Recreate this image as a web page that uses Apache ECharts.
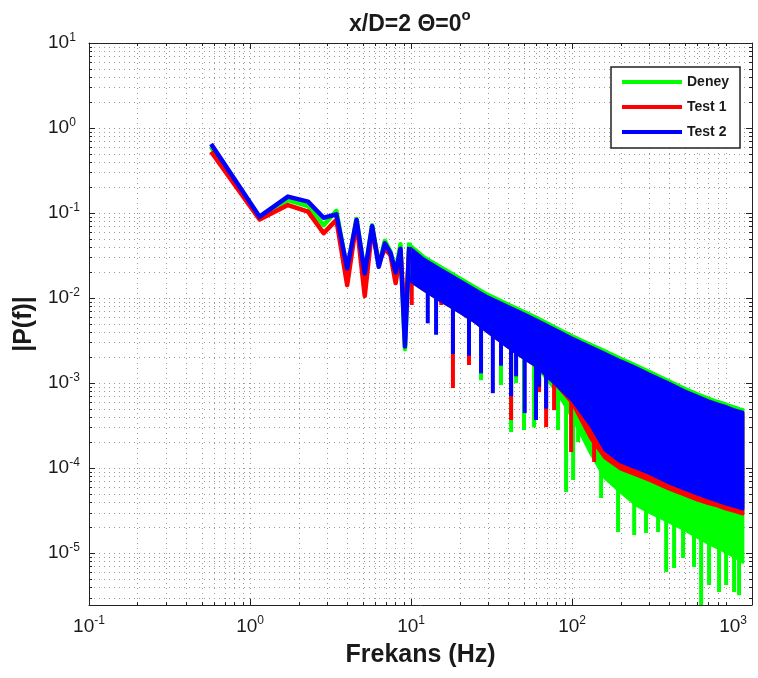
<!DOCTYPE html>
<html><head><meta charset="utf-8">
<script src="https://cdn.jsdelivr.net/npm/echarts@6/dist/echarts.min.js"></script>
<style>html,body{margin:0;padding:0;background:#fff}#c{width:758px;height:678px}</style>
</head><body><div id="c"></div>
<script>
// ---------- axis ranges / tick labels ----------
const X_MIN = 0.1, X_MAX = 1310;
const Y_MIN = 2.45e-6, Y_MAX = 10;
const xTickExps = [-1, 0, 1, 2, 3];
const yTickExps = [1, 0, -1, -2, -3, -4, -5];
const decadeMults = [1, 2, 3, 4, 5, 6, 7, 8, 9];

// ---------- low-frequency resolved bins (Hz) ----------
const lineF = [0.573, 1.146, 1.719, 2.292, 2.865, 3.438, 4.011, 4.584, 5.157, 5.73, 6.303, 6.876, 7.449, 8.022, 8.595, 9.168, 9.741];
const deneyLine = [0.60, 0.088, 0.142, 0.121, 0.072, 0.106, 0.021, 0.085, 0.019, 0.072, 0.024, 0.047, 0.035, 0.020, 0.043, 0.0025, 0.045];
const test1Line = [0.527, 0.084, 0.124, 0.104, 0.058, 0.083, 0.0142, 0.079, 0.0106, 0.066, 0.0256, 0.038, 0.032, 0.015, 0.036, 0.0045, 0.038];
const test2Line = [0.648, 0.0905, 0.156, 0.136, 0.088, 0.0965, 0.0223, 0.083, 0.0195, 0.070, 0.0233, 0.044, 0.034, 0.020, 0.038, 0.0027, 0.040];

// ---------- dense band region: envelopes ----------
const bandF = [9.7, 12, 15, 20, 25, 30, 40, 50, 60, 80, 100, 130, 160, 200, 250, 300, 400, 500, 600, 700, 800, 900, 1000, 1100, 1150];
const deneyUpper = [0.0432, 0.0308, 0.024, 0.0174, 0.0136, 0.0111, 0.00857, 0.00703, 0.00597, 0.0045, 0.00362, 0.00288, 0.0024, 0.00197, 0.00163, 0.00138, 0.00107, 0.00087, 0.00075, 0.00067, 0.00061, 0.00057, 0.00053, 0.0005, 0.00049];
const deneyLower = [0.0163, 0.0124, 0.00947, 0.00684, 0.00522, 0.00398, 0.00265, 0.00197, 0.00158, 0.0008, 0.0004, 0.00015, 0.0000763, 0.0000522, 0.0000367, 0.0000303, 0.0000232, 0.0000187, 0.0000154, 0.0000131, 0.0000115, 0.0000103, 0.0000092, 0.0000083, 0.0000078];
const test1Upper = [0.039, 0.0277, 0.0216, 0.0157, 0.0122, 0.010, 0.0077, 0.0063, 0.0054, 0.0041, 0.00326, 0.0026, 0.00216, 0.00177, 0.00147, 0.00124, 0.00096, 0.00078, 0.00068, 0.0006, 0.00055, 0.00051, 0.00048, 0.00045, 0.00044];
const test1Lower = [0.0163, 0.0124, 0.00947, 0.00684, 0.00522, 0.00398, 0.00265, 0.00197, 0.00158, 0.000947, 0.00058, 0.000225, 0.000131, 0.0000973, 0.0000828, 0.0000723, 0.0000566, 0.0000481, 0.000042, 0.0000382, 0.0000357, 0.000033, 0.0000312, 0.0000296, 0.0000288];
const test2Upper = [0.040, 0.0287, 0.0223, 0.0162, 0.0126, 0.0103, 0.0080, 0.00654, 0.00555, 0.00419, 0.00337, 0.00268, 0.00223, 0.00183, 0.00152, 0.00128, 0.000995, 0.00081, 0.0007, 0.00062, 0.00057, 0.00053, 0.00049, 0.000465, 0.000455];
const test2Lower = [0.0163, 0.0124, 0.00947, 0.00684, 0.00522, 0.00398, 0.00265, 0.00197, 0.00158, 0.000947, 0.00063, 0.00032, 0.000163, 0.000118, 0.0001, 0.0000873, 0.0000667, 0.0000566, 0.0000494, 0.0000444, 0.000041, 0.0000377, 0.0000357, 0.0000338, 0.000033];

// ---------- deep dips below each band: [Hz, bottom value] ----------
const deneySpikes = [[27.2, 0.00108], [36.2, 0.000947], [41.8, 0.000265], [44.9, 0.001], [50.3, 0.00028], [58.1, 0.0003], [81.8, 0.00028], [91.8, 0.0000522], [101.5, 0.0000723], [109, 0.000202], [151.4, 0.0000444], [193, 0.0000177], [243, 0.0000163], [288, 0.0000172], [342, 0.0000177], [384, 0.00000597], [430, 0.00000667], [489, 0.00000873], [572, 0.00000684], [633, 0.00000245], [709, 0.00000421], [818, 0.00000348], [905, 0.00000421], [1014, 0.00000348], [1089, 0.0000032]];
const test1Spikes = [[10.1, 0.00828], [15.4, 0.00828], [18.2, 0.000873], [21.0, 0.00667], [22.9, 0.00163], [41.8, 0.000367], [62.4, 0.000783], [69, 0.000303], [77.3, 0.00048], [98.6, 0.000154], [137, 0.000118], [167, 0.000124], [210, 0.0000947]];
const test2Spikes = [[12.7, 0.00504], [14.3, 0.0037], [18.2, 0.0022], [22.9, 0.0021], [27.2, 0.0013], [32.2, 0.00076], [36.2, 0.0016], [41.8, 0.0007], [44.9, 0.0012], [50.8, 0.000443], [59.7, 0.000367], [62.4, 0.0009], [69, 0.0005]];

const seriesNames = ['Deney', 'Test 1', 'Test 2'];
const seriesColors = ['#00ff00', '#ff0000', '#0000ff'];

// ---------- helpers ----------
const FONT = '"Liberation Sans", Arial, Helvetica, sans-serif';
const TXT = '#1a1a1a';
const GRID_COLOR = '#9a9a9a';
function isMajor(v) { const l = Math.log10(v); return Math.abs(l - Math.round(l)) < 1e-6; }
function buildGridValues(lo, hi) {
  const out = [];
  for (let e = -7; e <= 2; e++) {
    decadeMults.forEach(m => { const v = m * Math.pow(10, e); if (v >= lo * 0.9999 && v <= hi * 1.0001) out.push(+v.toPrecision(6)); });
  }
  return out;
}
const xGridVals = buildGridValues(X_MIN, X_MAX);
const yGridVals = buildGridValues(Y_MIN, Y_MAX);

function interpLogLog(f, xs, ys) {
  const lf = Math.log10(f);
  for (let i = 0; i < xs.length - 1; i++) {
    if (f >= xs[i] && f <= xs[i + 1]) {
      const t = (lf - Math.log10(xs[i])) / (Math.log10(xs[i + 1]) - Math.log10(xs[i]));
      return Math.pow(10, Math.log10(ys[i]) + t * (Math.log10(ys[i + 1]) - Math.log10(ys[i])));
    }
  }
  return ys[f < xs[0] ? 0 : ys.length - 1];
}

function gridRender(axis) {
  return function (params, api) {
    const cs = params.coordSys;
    const children = [];
    if (axis === 'x') {
      const v = api.value(0);
      const p = api.coord([v, Y_MIN]);
      const x = Math.round(p[0]) + 0.5;
      const tl = isMajor(v) ? 6 : 3;
      const edge = Math.abs(p[0] - cs.x) < 1 || Math.abs(p[0] - (cs.x + cs.width)) < 1;
      if (!edge) {
        children.push({ type: 'line', shape: { x1: x, y1: cs.y, x2: x, y2: cs.y + cs.height }, style: { stroke: GRID_COLOR, lineWidth: 1, lineDash: [1, 4] } });
        children.push({ type: 'line', shape: { x1: x, y1: cs.y + cs.height, x2: x, y2: cs.y + cs.height - tl }, style: { stroke: '#222', lineWidth: 1 } });
        children.push({ type: 'line', shape: { x1: x, y1: cs.y, x2: x, y2: cs.y + tl }, style: { stroke: '#222', lineWidth: 1 } });
      }
    } else {
      const v = api.value(1);
      const p = api.coord([X_MIN, v]);
      const y = Math.round(p[1]) + 0.5;
      const tl = isMajor(v) ? 6 : 3;
      const edge = Math.abs(p[1] - cs.y) < 1 || Math.abs(p[1] - (cs.y + cs.height)) < 1;
      if (!edge) {
        children.push({ type: 'line', shape: { x1: cs.x, y1: y, x2: cs.x + cs.width, y2: y }, style: { stroke: GRID_COLOR, lineWidth: 1, lineDash: [1, 4] } });
        children.push({ type: 'line', shape: { x1: cs.x, y1: y, x2: cs.x + tl, y2: y }, style: { stroke: '#222', lineWidth: 1 } });
        children.push({ type: 'line', shape: { x1: cs.x + cs.width, y1: y, x2: cs.x + cs.width - tl, y2: y }, style: { stroke: '#222', lineWidth: 1 } });
      }
    }
    return { type: 'group', silent: true, children: children };
  };
}

function bandRender(upper, lower, spikes, color) {
  return function (params, api) {
    if (params.dataIndex !== 0) return;
    const pts = [];
    for (let i = 0; i < bandF.length; i++) pts.push(api.coord([bandF[i], upper[i]]));
    for (let i = bandF.length - 1; i >= 0; i--) pts.push(api.coord([bandF[i], lower[i]]));
    const children = [{ type: 'polygon', shape: { points: pts }, style: { fill: color, stroke: color, lineWidth: 3, lineJoin: 'round' } }];
    spikes.forEach(s => {
      const top = api.coord([s[0], interpLogLog(s[0], bandF, upper)]);
      const bot = api.coord([s[0], s[1]]);
      children.push({ type: 'line', shape: { x1: bot[0], y1: top[1], x2: bot[0], y2: bot[1] }, style: { stroke: color, lineWidth: 4 } });
    });
    return { type: 'group', silent: true, children: children };
  };
}

function supFormatter(v) {
  if (!isMajor(v)) return '';
  return '10{sup|' + Math.round(Math.log10(v)) + '}';
}

const lineSets = [deneyLine, test1Line, test2Line];
const bandSets = [[deneyUpper, deneyLower, deneySpikes], [test1Upper, test1Lower, test1Spikes], [test2Upper, test2Lower, test2Spikes]];

const series = [
  { type: 'custom', name: 'gx', silent: true, data: xGridVals.map(v => [v, Y_MIN]), renderItem: gridRender('x'), z: 1 },
  { type: 'custom', name: 'gy', silent: true, data: yGridVals.map(v => [X_MIN, v]), renderItem: gridRender('y'), z: 1 }
];
seriesNames.forEach((nm, k) => {
  series.push({
    type: 'line', name: nm, color: seriesColors[k], symbol: 'none', showSymbol: false,
    data: lineF.map((f, i) => [f, lineSets[k][i]]),
    lineStyle: { width: 4.5, color: seriesColors[k], join: 'round' }, z: 2
  });
  const b = bandSets[k];
  series.push({
    type: 'custom', name: nm + ' band', silent: true,
    data: bandF.map((f, i) => [f, b[0][i], b[1][i]]),
    encode: { x: 0, y: [1, 2] },
    renderItem: bandRender(b[0], b[1], b[2], seriesColors[k]), z: 2
  });
});

const axisLabelX = {
  formatter: supFormatter, margin: 10, fontSize: 19, lineHeight: 23, color: TXT, fontFamily: FONT,
  rich: { sup: { fontSize: 12, lineHeight: 12, verticalAlign: 'top', color: TXT, fontFamily: FONT } }
};
const axisLabelY = {
  formatter: supFormatter, margin: 41, align: 'left', fontSize: 19, lineHeight: 23, color: TXT, fontFamily: FONT,
  rich: { sup: { fontSize: 12, lineHeight: 12, verticalAlign: 'top', color: TXT, fontFamily: FONT } }
};
const frameLine = { show: true, onZero: false, lineStyle: { color: '#222', width: 1 } };

const option = {
  animation: false,
  backgroundColor: '#fff',
  textStyle: { fontFamily: FONT },
  title: {
    text: 'x/D=2 Θ=0{sup|o}', left: 344, top: 3,
    textStyle: { fontSize: 23, fontWeight: 'bold', color: TXT, fontFamily: FONT, lineHeight: 34,
      rich: { sup: { fontSize: 15, lineHeight: 15, fontWeight: 'bold', verticalAlign: 'top', color: TXT, fontFamily: FONT } } }
  },
  grid: { left: 89, right: 6, top: 43, bottom: 73, containLabel: false, outerBoundsMode: 'none' },
  legend: {
    data: seriesNames, orient: 'vertical', left: 611, top: 67,
    icon: 'rect', itemWidth: 60, itemHeight: 4, itemGap: 9,
    padding: [7, 11, 8, 11],
    textStyle: { fontSize: 14, fontWeight: 'bold', lineHeight: 16, color: TXT, fontFamily: FONT },
    borderColor: '#222', borderWidth: 1.5, backgroundColor: '#fff', z: 10,
    selectedMode: false
  },
  xAxis: [
    { type: 'log', logBase: 10, min: X_MIN, max: X_MAX, position: 'bottom',
      axisLine: frameLine, axisTick: { show: false }, splitLine: { show: false }, minorTick: { show: false },
      axisLabel: axisLabelX,
      name: 'Frekans (Hz)', nameLocation: 'middle', nameGap: 33,
      nameTextStyle: { fontSize: 25, fontWeight: 'bold', color: TXT, fontFamily: FONT } },
    { type: 'log', logBase: 10, min: X_MIN, max: X_MAX, position: 'top',
      axisLine: frameLine, axisTick: { show: false }, splitLine: { show: false }, axisLabel: { show: false } }
  ],
  yAxis: [
    { type: 'log', logBase: 10, min: Y_MIN, max: Y_MAX, position: 'left',
      axisLine: frameLine, axisTick: { show: false }, splitLine: { show: false }, minorTick: { show: false },
      axisLabel: axisLabelY,
      name: '|P(f)|', nameLocation: 'middle', nameGap: 47, nameRotate: 90,
      nameTextStyle: { fontSize: 25, fontWeight: 'bold', color: TXT, fontFamily: FONT } },
    { type: 'log', logBase: 10, min: Y_MIN, max: Y_MAX, position: 'right',
      axisLine: frameLine, axisTick: { show: false }, splitLine: { show: false }, axisLabel: { show: false } }
  ],
  series: series
};

const chart = echarts.init(document.getElementById('c'), null, { renderer: 'canvas', width: 758, height: 678 });
chart.setOption(option);
</script>
</body></html>
